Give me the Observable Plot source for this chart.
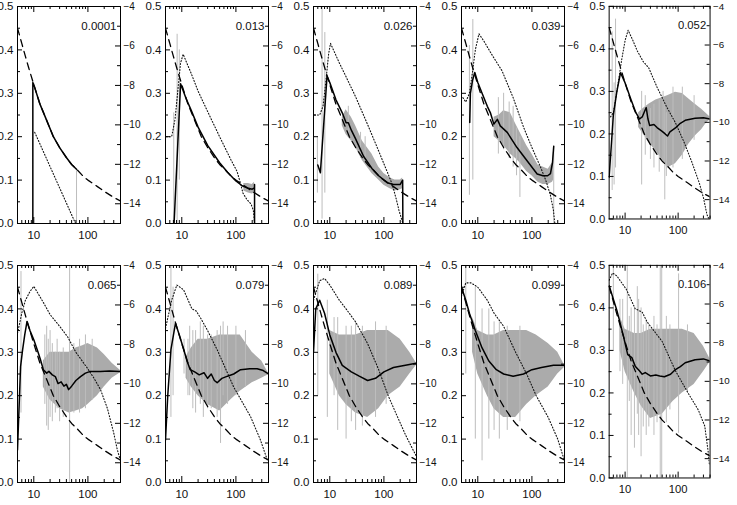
<!DOCTYPE html>
<html><head><meta charset="utf-8">
<script src="https://cdn.jsdelivr.net/npm/d3@7"></script>
<script src="https://cdn.jsdelivr.net/npm/@observablehq/plot@0.6"></script>
<style>
body{margin:0;background:#fff;}
#wrap{position:relative;width:737px;height:505px;overflow:hidden;background:#fff;}
#wrap > div{position:absolute;}
svg{display:block;overflow:visible;}
</style></head><body><div id="wrap"></div>
<script>
// ---- data (x = log axis value, y = left-axis value) ----
const panelLabels = ["0.0001","0.013","0.026","0.039","0.052","0.065","0.079","0.089","0.099","0.106"];

const dashed = [[5,0.45],[6,0.415],[7,0.385],[8,0.36],[10,0.32],[13,0.275],[17,0.24],[23,0.2],[30,0.175],[40,0.152],[50,0.136],[62,0.125],[80,0.11],[100,0.1],[150,0.085],[200,0.074],[300,0.06],[400,0.052]];

const p1Solid = [[9.6,0],[9.6,0.325],[10,0.32],[13,0.275],[17,0.24],[23,0.2],[30,0.175],[40,0.152],[50,0.136],[61.6,0.125]];
const p1Dotted = [[10.4,0.21],[15,0.166],[20,0.131],[30,0.082],[45,0.033],[59,0]];
const p1Band = [];
const p1Spikes = [[61.6,0,0.125]];

const p2Solid = [[7.2,0],[9.5,0.322],[12,0.288],[15,0.26],[20,0.222],[30,0.18],[50,0.14],[70,0.118],[100,0.098],[130,0.087],[170,0.081],[200,0.079],[220,0.082],[221,0.09],[221,0]];
const p2Dotted = [[5.2,0.2],[6.5,0.2],[7.5,0.24],[8.5,0.31],[9.5,0.37],[10.6,0.39],[15,0.345],[20,0.305],[30,0.258],[50,0.2],[80,0.148],[105,0.12],[120,0.095],[135,0.07],[160,0.055],[190,0.045],[210,0.03],[221,0]];
const p2Band = [[140,0.075,0.092],[170,0.07,0.092],[200,0.068,0.09],[220,0.07,0.095]];
const p2Spikes = [[7.1,0,0.255],[8.2,0,0.436],[9.0,0.1,0.4]];

const p3Solid = [[6.0,0.135],[6.7,0.117],[8.9,0.34],[10,0.325],[13,0.285],[17,0.255],[20,0.232],[22,0.232],[25,0.215],[30,0.195],[42,0.155],[60,0.127],[80,0.11],[115,0.094],[150,0.09],[200,0.09],[222,0.1],[224,0]];
const p3Dotted = [[5.2,0.25],[6.5,0.25],[7.5,0.27],[8.5,0.33],[9.5,0.39],[10.3,0.415],[15,0.37],[20,0.338],[30,0.292],[50,0.228],[80,0.167],[110,0.125],[133,0.1],[150,0.08],[170,0.055],[190,0.03],[210,0.012],[225,0]];
const p3Band = [[17,0.225,0.245],[20,0.205,0.262],[25,0.19,0.245],[30,0.175,0.225],[40,0.145,0.19],[60,0.115,0.16],[80,0.1,0.13],[100,0.088,0.115],[130,0.08,0.105],[160,0.075,0.1],[200,0.078,0.1],[222,0.08,0.105]];
const p3Spikes = [[5.9,0.07,0.2],[7.2,0.01,0.5],[8.1,0.07,0.44],[22,0.2,0.27],[37,0.15,0.21],[45,0.14,0.2]];

const p4Solid = [[7.1,0.233],[7.3,0.3],[8.0,0.33],[8.8,0.348],[10,0.325],[12,0.3],[15,0.27],[17.1,0.255],[19.8,0.229],[23,0.24],[26,0.225],[35,0.21],[53,0.175],[82,0.144],[125,0.114],[160,0.11],[195,0.11],[220,0.115],[240,0.14],[253,0.178]];
const p4Dotted = [[5.3,0.29],[6,0.28],[7,0.3],[8,0.35],[9,0.4],[10.5,0.437],[13,0.42],[18,0.39],[28,0.352],[45,0.29],[70,0.222],[100,0.175],[144,0.13],[180,0.1],[220,0.065],[250,0.03],[265,0]];
const p4Band = [[20,0.2,0.245],[25,0.19,0.25],[30,0.18,0.26],[40,0.16,0.255],[50,0.15,0.23],[60,0.14,0.21],[80,0.12,0.18],[100,0.11,0.16],[130,0.095,0.135],[160,0.09,0.13],[200,0.09,0.125],[240,0.095,0.14],[252,0.1,0.17]];
const p4Spikes = [[7.0,0.065,0.41],[8.1,0.1,0.47],[24,0.16,0.29],[30,0.17,0.3],[38,0.15,0.28],[45,0.13,0.27],[52,0.11,0.22],[60,0.06,0.2],[253,0,0.178]];

const p5Solid = [[5,0.098],[6,0.244],[7,0.3],[8.2,0.344],[10,0.32],[13,0.28],[16,0.25],[18.7,0.235],[21,0.24],[25,0.262],[27,0.235],[29,0.22],[35,0.222],[40,0.215],[50,0.206],[57,0.2],[63,0.195],[70,0.205],[89,0.214],[110,0.225],[136,0.232],[209,0.237],[300,0.238],[400,0.235]];
const p5Dotted = [[5.3,0.24],[6,0.25],[7,0.3],[8.5,0.37],[10,0.42],[11.4,0.444],[14,0.42],[17,0.395],[22,0.37],[28,0.355],[40,0.31],[60,0.265],[90,0.225],[130,0.18],[180,0.135],[250,0.085],[300,0.05],[350,0.01],[380,0]];
const p5Band = [[18,0.215,0.25],[22,0.2,0.26],[28,0.18,0.27],[38,0.16,0.28],[50,0.14,0.285],[63,0.12,0.29],[89,0.13,0.298],[120,0.15,0.295],[157,0.175,0.283],[210,0.195,0.27],[277,0.21,0.258],[340,0.225,0.248],[400,0.233,0.24]];
const p5Spikes = [[5.7,0.067,0.44],[6.2,0.08,0.32],[6.6,0.12,0.47],[20.5,0.08,0.3],[24,0.15,0.29],[30,0.14,0.26],[35,0.12,0.27],[44,0.11,0.28],[52,0.13,0.3],[56,0.045,0.27],[60,0.1,0.25],[80,0.12,0.31],[120,0.14,0.31],[200,0.185,0.29]];

const p6Solid = [[5,0.075],[5.7,0.267],[6.2,0.305],[6.8,0.34],[7.5,0.371],[8.5,0.35],[10,0.329],[12,0.3],[13.3,0.283],[15,0.26],[17.3,0.252],[19,0.256],[22,0.248],[25,0.244],[28,0.228],[32,0.232],[36,0.222],[40,0.226],[44,0.214],[50,0.222],[60,0.235],[73,0.244],[90,0.252],[111,0.256],[170,0.256],[250,0.257],[400,0.256]];
const p6Dotted = [[5,0.344],[6,0.39],[7,0.42],[8.5,0.44],[10,0.452],[15,0.415],[20,0.387],[30,0.36],[42,0.336],[60,0.3],[97,0.264],[130,0.24],[171,0.214],[230,0.17],[300,0.114],[350,0.075],[400,0.05]];
const p6Band = [[15,0.22,0.28],[20,0.19,0.3],[30,0.17,0.3],[45,0.16,0.3],[60,0.165,0.31],[80,0.17,0.315],[100,0.18,0.32],[150,0.2,0.31],[200,0.22,0.295],[280,0.24,0.275],[400,0.253,0.258]];
const p6Spikes = [[5.8,0.16,0.486],[16,0.18,0.34],[17.3,0.13,0.36],[18.5,0.12,0.33],[20,0.15,0.35],[22,0.14,0.32],[25,0.16,0.3],[27,0.17,0.33],[30,0.14,0.3],[35,0.15,0.31],[45.9,0,0.5],[55,0.16,0.32],[70,0.16,0.33],[90,0.17,0.34],[120,0.19,0.33]];

const p7Solid = [[5,0.098],[5.5,0.2],[6.3,0.306],[7.65,0.367],[9,0.34],[10.9,0.306],[12.5,0.28],[14.3,0.26],[17.3,0.255],[21,0.248],[25.7,0.253],[30,0.24],[35,0.25],[40,0.235],[45,0.23],[55,0.24],[70,0.245],[91,0.25],[122,0.26],[180,0.262],[247,0.262],[320,0.258],[400,0.25]];
const p7Dotted = [[5,0.355],[6.5,0.42],[8.1,0.455],[10.8,0.444],[15.4,0.4],[18.5,0.395],[22,0.38],[30,0.35],[45,0.306],[91,0.22],[186,0.152],[284,0.098],[380,0.052]];
const p7Band = [[12,0.24,0.29],[15,0.22,0.31],[20,0.2,0.33],[30,0.18,0.33],[50,0.165,0.34],[80,0.19,0.34],[120,0.21,0.34],[200,0.23,0.3],[300,0.24,0.28],[400,0.248,0.252]];
const p7Spikes = [[6.3,0.15,0.5],[6.9,0.2,0.45],[11,0.25,0.33],[13,0.2,0.33],[14,0.2,0.36],[16,0.17,0.35],[18,0.16,0.35],[22,0.18,0.37],[25,0.15,0.36],[30,0.17,0.34],[35,0.17,0.34],[45,0.15,0.35],[52,0.09,0.36],[58,0.2,0.37],[70,0.18,0.36],[100,0.2,0.36],[150,0.22,0.35]];

const p8Solid = [[5,0.3],[5.5,0.4],[6.5,0.42],[8,0.39],[10,0.34],[13,0.3],[17,0.27],[25,0.255],[35,0.245],[50,0.235],[70,0.24],[100,0.255],[150,0.265],[250,0.27],[400,0.275]];
const p8Dotted = [[5,0.42],[6.5,0.465],[8,0.47],[10,0.455],[15,0.42],[20,0.4],[30,0.37],[50,0.32],[80,0.26],[120,0.2],[180,0.15],[250,0.11],[330,0.08],[400,0.06]];
const p8Band = [[10,0.25,0.35],[15,0.2,0.34],[20,0.18,0.34],[30,0.16,0.34],[50,0.15,0.35],[80,0.17,0.35],[120,0.2,0.35],[200,0.22,0.33],[300,0.25,0.3],[400,0.27,0.275]];
const p8Spikes = [[6,0.2,0.48],[9,0.15,0.42],[12,0.2,0.38],[14,0.12,0.38],[20,0.1,0.36],[25,0.14,0.36],[30,0.12,0.37],[40,0.13,0.36],[70,0.15,0.37],[110,0.18,0.36]];

const p9Solid = [[5,0.45],[6,0.42],[7,0.39],[9,0.35],[12,0.31],[16,0.28],[22,0.26],[30,0.25],[45,0.245],[70,0.25],[100,0.26],[150,0.265],[250,0.27],[400,0.27]];
const p9Dotted = [[5,0.43],[6,0.46],[7.5,0.46],[10,0.45],[15,0.42],[20,0.39],[30,0.36],[50,0.3],[80,0.25],[120,0.2],[200,0.15],[300,0.1],[400,0.05]];
const p9Band = [[8,0.3,0.38],[10,0.25,0.35],[15,0.2,0.34],[20,0.17,0.34],[30,0.15,0.35],[50,0.15,0.35],[80,0.18,0.35],[120,0.2,0.34],[200,0.22,0.32],[300,0.25,0.3],[400,0.265,0.27]];
const p9Spikes = [[6,0.25,0.5],[9,0.1,0.45],[12,0.05,0.4],[16,0.1,0.4],[20,0.12,0.37],[25,0.1,0.37],[35,0.12,0.36],[60,0.14,0.36]];

const p10Solid = [[5,0.452],[7,0.394],[9.2,0.336],[11.2,0.29],[13.4,0.283],[15.5,0.263],[18.6,0.252],[21,0.244],[24,0.248],[30,0.24],[38,0.242],[45,0.24],[55,0.238],[72,0.244],[89,0.255],[110,0.262],[136,0.271],[209,0.278],[300,0.28],[400,0.275]];
const p10Dotted = [[5,0.465],[5.8,0.482],[7,0.475],[10.5,0.444],[15.5,0.398],[21,0.39],[26,0.367],[50,0.321],[89,0.252],[157,0.198],[240,0.16],[318,0.122],[370,0.06],[390,0.03]];
const p10Band = [[8,0.3,0.38],[10,0.25,0.35],[15,0.2,0.34],[20,0.17,0.34],[30,0.14,0.35],[50,0.15,0.35],[80,0.18,0.35],[120,0.2,0.35],[200,0.22,0.34],[300,0.25,0.31],[400,0.273,0.28]];
const p10Spikes = [[6,0.3,0.5],[8,0.25,0.42],[9,0.22,0.42],[11,0,0.5],[12,0.18,0.38],[13,0.1,0.4],[15,0.07,0.4],[17,0.15,0.45],[18,0.1,0.42],[20,0.05,0.4],[22,0.12,0.36],[25,0.1,0.37],[28,0.12,0.36],[35,0.1,0.38],[40,0.13,0.36],[46,0,0.5],[49,0,0.5],[60,0.13,0.38],[70,0.16,0.36],[102,0.105,0.48],[150,0.2,0.36]];

// axis ticks
const leftTicks = [0,0.1,0.2,0.3,0.4,0.5];
const leftMinor = [0.05,0.15,0.25,0.35,0.45];
const rightTicks = [-4,-6,-8,-10,-12,-14];
const rightMinor = [-5,-7,-9,-11,-13];
const xMajor = [10,100];
const xMinor = [6,7,8,9,20,30,40,50,60,70,80,90,200,300,400];

// ---- build ----
const panels = [
  [p1Solid,p1Dotted,p1Band,p1Spikes],[p2Solid,p2Dotted,p2Band,p2Spikes],[p3Solid,p3Dotted,p3Band,p3Spikes],
  [p4Solid,p4Dotted,p4Band,p4Spikes],[p5Solid,p5Dotted,p5Band,p5Spikes],[p6Solid,p6Dotted,p6Band,p6Spikes],
  [p7Solid,p7Dotted,p7Band,p7Spikes],[p8Solid,p8Dotted,p8Band,p8Spikes],[p9Solid,p9Dotted,p9Band,p9Spikes],
  [p10Solid,p10Dotted,p10Band,p10Spikes]
];
const W = 148, H = 245, ML = 17, MR = 28, MT = 6, MB = 22;
const FW = W - ML - MR, FH = H - MT - MB;
const toLeft = r => (r + 15) / 22;
const wrap = document.getElementById("wrap");
const X = d => d[0], Y = d => d[1];

panels.forEach(([solid, dotted, band, spikes], i) => {
  const col = i % 5, row = Math.floor(i / 5);
  const chart = Plot.plot({
    width: W, height: H, marginLeft: ML, marginRight: MR, marginTop: MT, marginBottom: MB,
    x: {type: "log", domain: [5, 400], axis: null},
    y: {domain: [0, 0.5], axis: null},
    style: {fontFamily: "'Liberation Sans', Arial, sans-serif", color: "#111", overflow: "visible", background: "transparent"},
    marks: [
      Plot.areaY(band, {x: X, y1: d => d[1], y2: d => d[2], fill: "#ababab", clip: true}),
      Plot.ruleX(spikes, {x: X, y1: d => d[1], y2: d => d[2], stroke: "#bdbdbd", strokeWidth: 1, clip: true}),
      Plot.line(dashed, {x: X, y: Y, stroke: "#000", strokeWidth: 1.3, strokeDasharray: "7,5", clip: true}),
      Plot.line(dotted, {x: X, y: Y, stroke: "#111", strokeWidth: 1.1, strokeDasharray: "1,2", clip: true}),
      Plot.line(solid, {x: X, y: Y, stroke: "#000", strokeWidth: 1.5, clip: true}),
      Plot.frame({stroke: "#000", strokeWidth: 1}),
      Plot.tickY(leftTicks, {y: d => d, insetRight: FW - 5, stroke: "#000"}),
      Plot.tickY(leftMinor, {y: d => d, insetRight: FW - 3, stroke: "#000"}),
      Plot.tickY(rightTicks.map(toLeft), {y: d => d, insetLeft: FW - 5, stroke: "#000"}),
      Plot.tickY(rightMinor.map(toLeft), {y: d => d, insetLeft: FW - 3, stroke: "#000"}),
      Plot.tickX(xMajor, {x: d => d, insetTop: FH - 6, stroke: "#000"}),
      Plot.tickX(xMajor, {x: d => d, insetBottom: FH - 6, stroke: "#000"}),
      Plot.tickX(xMinor, {x: d => d, insetTop: FH - 3, stroke: "#000"}),
      Plot.tickX(xMinor, {x: d => d, insetBottom: FH - 3, stroke: "#000"}),
      Plot.axisY({anchor: "left", ticks: leftTicks, tickSize: 0, tickPadding: 4, tickFormat: d3.format(".1f"), fontSize: 11.5, label: null}),
      Plot.axisY({anchor: "right", ticks: rightTicks.map(toLeft), tickSize: 0, tickPadding: 3,
        tickFormat: d => "\u2212" + Math.abs(Math.round(d * 22 - 15)), fontSize: 10, label: null}),
      Plot.axisX({anchor: "bottom", ticks: xMajor, tickSize: 0, tickPadding: 7, tickFormat: d => String(d), fontSize: 11.5, label: null}),
      Plot.text([panelLabels[i]], {text: d => d, frameAnchor: "top-right", dx: -4, dy: 15, fontSize: 11.5, fill: "#111"})
    ]
  });
  const holder = document.createElement("div");
  holder.style.left = (col * 148) + "px";
  holder.style.top = (row * 259) + "px";
  holder.appendChild(chart);
  wrap.appendChild(holder);
});
</script></body></html>
